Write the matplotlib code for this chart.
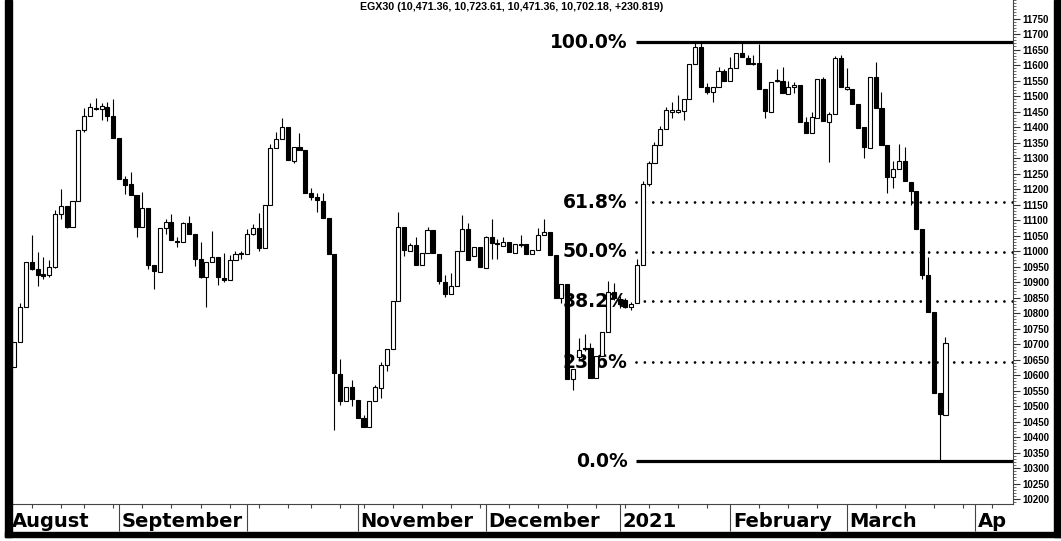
import matplotlib
matplotlib.use('Agg')
import matplotlib.pyplot as plt
from matplotlib.patches import Rectangle
import matplotlib.transforms as mtransforms

# daily candles, Aug 2020 .. Mar 2021 (one entry per trading day)
opens = [10625, 10707, 10820, 10966, 10942, 10926, 10923, 10947, 11121, 11145,
         11078, 11162, 11391, 11437, 11463, 11459, 11465, 11437, 11366, 11233,
         11215, 11181, 11078, 11140, 10955, 10933, 11073, 11094, 11032, 11030,
         11091, 11055, 10973, 10915, 10965, 10982, 10913, 10906, 10971, 10990,
         10992, 11055, 11075, 11009, 11148, 11331, 11360, 11401, 11291, 11336,
         11326, 11188, 11175, 11162, 11107, 10990, 10605, 10517, 10562, 10520,
         10460, 10431, 10515, 10557, 10632, 10683, 10840, 11078, 11000, 11019,
         10955, 10995, 11068, 10992, 10901, 10861, 10887, 11000, 11070, 10984,
         11012, 10944, 11044, 11025, 11016, 11030, 10995, 11020, 11022, 10990,
         11005, 11052, 11062, 10987, 10849, 10894, 10586, 10659, 10683, 10686,
         10590, 10661, 10740, 10869, 10845, 10842, 10818, 10831, 10955, 11216,
         11283, 11342, 11393, 11450, 11450, 11452, 11489, 11603, 11657, 11528,
         11513, 11528, 11582, 11549, 11592, 11640, 11622, 11606, 11607, 11524,
         11450, 11549, 11549, 11506, 11528, 11535, 11417, 11382, 11428, 11554,
         11417, 11441, 11622, 11524, 11524, 11474, 11399, 11333, 11560, 11460,
         11342, 11240, 11264, 11291, 11224, 11195, 11071, 10923, 10804, 10541,
         10471.36]
highs = [10707, 10832, 10966, 11052, 10997, 10980, 10971, 11131, 11199, 11145,
         11162, 11391, 11462, 11478, 11495, 11478, 11481, 11492, 11366, 11242,
         11256, 11181, 11190, 11140, 10955, 11073, 11102, 11121, 11045, 11094,
         11113, 11055, 11030, 10965, 11065, 10982, 10995, 10987, 11001, 11001,
         11070, 11087, 11124, 11148, 11347, 11385, 11428, 11401, 11336, 11380,
         11326, 11202, 11188, 11188, 11107, 10990, 10651, 10562, 10584, 10520,
         10470, 10517, 10568, 10643, 10683, 10840, 11127, 11078, 11025, 11046,
         10995, 11078, 11068, 10992, 10923, 10928, 11000, 11116, 11089, 11012,
         11012, 11048, 11105, 11040, 11044, 11030, 11022, 11052, 11022, 11005,
         11076, 11105, 11062, 10987, 10894, 10894, 10621, 10718, 10732, 10704,
         10661, 10740, 10903, 10898, 10855, 10850, 10835, 10973, 11225, 11291,
         11353, 11403, 11465, 11482, 11503, 11489, 11603, 11673, 11673, 11543,
         11528, 11594, 11587, 11627, 11640, 11673, 11632, 11632, 11668, 11524,
         11546, 11586, 11594, 11549, 11546, 11535, 11432, 11450, 11554, 11560,
         11450, 11630, 11632, 11592, 11524, 11474, 11399, 11560, 11611, 11513,
         11342, 11290, 11345, 11336, 11224, 11195, 11071, 10980, 10804, 10541,
         10723.61]
lows = [10625, 10707, 10820, 10939, 10887, 10910, 10915, 10945, 11105, 11073,
        11078, 11162, 11385, 11437, 11456, 11424, 11421, 11366, 11233, 11183,
        11180, 11046, 11078, 10941, 10877, 10933, 11054, 11037, 11014, 11030,
        11054, 10952, 10912, 10820, 10965, 10889, 10901, 10906, 10971, 10975,
        10992, 11052, 11001, 11009, 11148, 11331, 11360, 11294, 11285, 11326,
        11188, 11165, 11127, 11107, 10990, 10423, 10503, 10517, 10500, 10460,
        10433, 10431, 10515, 10525, 10613, 10683, 10840, 10984, 11000, 10955,
        10955, 10995, 10995, 10894, 10853, 10861, 10887, 11000, 10971, 10984,
        10947, 10944, 10976, 10976, 11016, 10998, 10995, 11014, 10990, 10990,
        11005, 11052, 10987, 10849, 10831, 10586, 10552, 10650, 10678, 10590,
        10590, 10661, 10740, 10842, 10815, 10815, 10810, 10831, 10955, 11210,
        11283, 11342, 11393, 11428, 11446, 11423, 11489, 11603, 11528, 11506,
        11482, 11528, 11549, 11549, 11592, 11625, 11605, 11600, 11524, 11428,
        11450, 11545, 11511, 11506, 11510, 11417, 11382, 11382, 11428, 11420,
        11288, 11441, 11528, 11520, 11474, 11396, 11299, 11333, 11460, 11342,
        11188, 11205, 11264, 11227, 11150, 11070, 10909, 10804, 10541, 10322,
        10471.36]
closes = [10707, 10820, 10966, 10942, 10923, 10920, 10947, 11121, 11145, 11078,
          11162, 11391, 11437, 11465, 11457, 11468, 11437, 11366, 11233, 11213,
          11181, 11078, 11140, 10955, 10937, 11073, 11094, 11037, 11029, 11091,
          11054, 10973, 10915, 10965, 10982, 10915, 10906, 10971, 10990, 10994,
          11055, 11075, 11009, 11148, 11331, 11360, 11401, 11294, 11336, 11326,
          11188, 11173, 11165, 11107, 10990, 10607, 10517, 10562, 10522, 10460,
          10433, 10517, 10560, 10632, 10683, 10840, 11078, 11003, 11019, 10955,
          10995, 11068, 10995, 10904, 10861, 10887, 11000, 11070, 10971, 11012,
          10947, 11044, 11027, 11023, 11029, 10998, 11022, 11019, 10990, 11005,
          11052, 11062, 10987, 10849, 10894, 10586, 10621, 10681, 10688, 10590,
          10661, 10740, 10869, 10847, 10828, 10820, 10830, 10955, 11216, 11283,
          11342, 11393, 11455, 11454, 11453, 11489, 11603, 11657, 11528, 11513,
          11528, 11582, 11549, 11592, 11640, 11625, 11605, 11604, 11524, 11453,
          11546, 11550, 11511, 11528, 11535, 11417, 11382, 11432, 11554, 11420,
          11441, 11622, 11528, 11526, 11474, 11396, 11336, 11560, 11460, 11342,
          11240, 11264, 11291, 11227, 11195, 11071, 10923, 10804, 10541, 10474,
          10702.18]

# calendar (trading-day index of first session in each month, weekly ticks)
month_first = [18, 40, 59, 81, 104, 123, 143, 165]
month_labels = ["August", "September", "", "November", "December", "2021",
                "February", "March", "Ap"]
week_ticks = [3, 8, 12, 17, 22, 27, 32, 37, 42, 47, 51, 56, 60, 65, 70, 75, 80,
              85, 90, 95, 100, 105, 109, 114, 119, 128, 133, 138, 148, 153,
              158, 163, 168]

fib_ratios = [1.0, 0.618, 0.5, 0.382, 0.236, 0.0]
fib_labels = ["100.0%", "61.8%", "50.0%", "38.2%", "23.6%", "0.0%"]
fib_start = 106.8

title = "EGX30 (10,471.36, 10,723.61, 10,471.36, 10,702.18, +230.819)"

W, H = 1061, 541
fig = plt.figure(figsize=(W / 100, H / 100), dpi=100)
ax = fig.add_axes([11 / W, 37 / H, (1013 - 11) / W, 504 / H])
ax.set_xlim(-0.57, 171.6)
ax.set_ylim(10184, 11810)

idx = list(range(len(opens)))
ax.vlines(idx, lows, highs, color='black', lw=0.8, zorder=3)
bottoms = [min(o, c) for o, c in zip(opens, closes)]
heights = [max(abs(c - o), 4) for o, c in zip(opens, closes)]
colors = ['white' if c > o else 'black' for o, c in zip(opens, closes)]
ax.bar(idx, heights, bottom=bottoms, width=0.7, color=colors,
       edgecolor='black', linewidth=0.8, zorder=4)

# fibonacci retracement
hi, lo = max(highs), min(lows)
xend = ax.get_xlim()[1]
for r, lab in zip(fib_ratios, fib_labels):
    lvl = lo + r * (hi - lo)
    if r in (0.0, 1.0):
        ax.plot([fib_start, xend], [lvl, lvl], color='black', lw=2.3,
                solid_capstyle='butt', zorder=2)
    else:
        ax.plot([fib_start, xend], [lvl, lvl], color='black', lw=2.0,
                ls=(0, (0.01, 3)), dash_capstyle='round', zorder=2)
    ax.text(fib_start - 1.4, lvl, lab, ha='right', va='center', fontsize=13.5,
            fontweight='bold', family='DejaVu Sans', zorder=1)

# right price axis
ax.yaxis.tick_right()
ax.set_yticks(range(10200, 11751, 50))
ax.set_yticks(range(10190, 11811, 10), minor=True)
ax.tick_params(axis='y', which='major', length=5, width=0.8, color='#333333',
               pad=2, labelsize=7)
ax.tick_params(axis='y', which='minor', length=2.5, width=0.6, color='#555555')
for t in ax.get_yticklabels():
    t.set_fontfamily('Liberation Sans')
    t.set_fontweight('bold')

# date axis
ax.set_xticks(month_first, labels=[''] * len(month_first))
ax.set_xticks(week_ticks, minor=True)
ax.tick_params(axis='x', which='major', length=19.4, width=0.8, color='#444444')
ax.tick_params(axis='x', which='minor', length=2.9, width=0.8, color='#444444')
trans = mtransforms.blended_transform_factory(ax.transData, ax.transAxes)
label_x = [-0.4] + [m + 0.5 for m in month_first]
for x, lab in zip(label_x, month_labels):
    ax.text(x, -23 / 504, lab, transform=trans, ha='left', va='baseline',
            fontsize=14, fontweight='bold', family='DejaVu Sans',
            clip_on=False)

for s in ['top', 'left']:
    ax.spines[s].set_visible(False)
for s in ['bottom', 'right']:
    ax.spines[s].set_linewidth(0.8)
    ax.spines[s].set_color('#444444')

fig.text(512 / W, 1 - 6.5 / H, title, ha='center', va='center', fontsize=7.7,
         fontweight='bold', family='Liberation Sans')

# heavy frame pieces
for x0, y0, w, h in [(4.5, 4, 7, 537), (4.5, 4, 1056.5, 5.5), (1054, 4, 7, 537)]:
    fig.add_artist(Rectangle((x0 / W, y0 / H), w / W, h / H, color='black',
                             transform=fig.transFigure, zorder=10))

fig.savefig('out.png', dpi=100)
